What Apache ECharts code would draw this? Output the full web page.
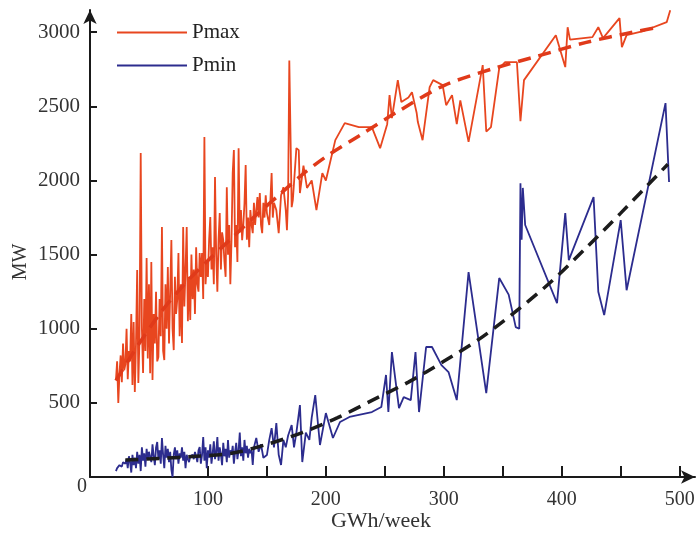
<!DOCTYPE html>
<html>
<head>
<meta charset="utf-8">
<script src="https://cdn.jsdelivr.net/npm/echarts@6/dist/echarts.min.js"></script>
<style>html,body{margin:0;padding:0;background:#fff}#c{width:699px;height:535px}</style>
</head>
<body>
<div id="c"></div>
<script>
// ---- data ----
var pmaxX = [22,23,24,25,26,27,28,29,30,31,32,33,34,35,36,37,38,39,40,41,42,43,44,45,46,47,48,49,50,51,52,53,54,55,56,57,58,59,60,61,62,63,64,65,66,67,68,69,70,71,72,73,74,75,76,77,78,79,80,81,82,83,84,85,86,87,88,89,90,91,92,93,94,95,96,97,98,99,100,101,102,103,104,105,106,107,108,109,110,111,112,113,114,115,116,117,118,119,120,121,122,123,124,125,126,127,128,129,130,131,132,133,134,135,136,137,138,139,140,141,142,143,144,145,146,147,148,149,150,152,154,155,156,158,160,162,164,166,167,168,169,171,172,175,177,178,181,184,188,192,197,200,208,216,228,239,246,252,254,256,261,264,270,273,277,278,282,288,291,299,302,307,311,314,321,333,336,340,347,352,362,365,366,368,395,403,405,407,426,431,435,449,451,455,470,489,492];
var pmaxY = [654,780,499,700,820,640,900,720,760,1000,660,850,780,1100,620,1045,573,900,1396,634,950,2185,1000,701,1200,850,1477,800,1300,700,1450,654,1100,900,1250,780,809,1200,950,1686,850,789,1300,1000,1416,900,1250,1598,1000,856,1350,1100,1200,1510,950,1300,904,1686,1150,1400,1686,1050,1350,1059,1500,1200,1400,1100,1550,1300,1250,1510,1350,1510,1200,2293,1300,1450,1350,1600,1753,1400,1550,1300,2023,1500,1250,1600,1780,1400,1650,1598,1450,1350,1955,1500,1700,1300,1600,2050,2205,1550,1700,1450,2218,1650,1800,1598,1700,1848,2104,1600,1750,1550,1800,1700,1645,1850,1700,1800,1888,1750,1915,1700,1645,1850,1750,1900,1780,1700,2050,1750,1850,1800,1645,1900,1955,1800,1665,1900,2810,1820,1868,2218,2205,1915,2100,1950,2000,1800,2050,2000,2272,2387,2360,2360,2218,2380,2576,2421,2677,2529,2560,2596,2455,2394,2272,2630,2677,2643,2508,2576,2380,2540,2260,2778,2330,2360,2758,2798,2798,2400,2387,2677,2980,2765,3034,2950,2967,3034,2960,3095,2900,2980,3010,3068,3149];

var pminX = [22,23,25,27,28,30,31,32,33,34,35,36,37,38,39,40,41,42,43,44,45,46,47,48,49,50,51,52,53,54,55,56,57,58,59,60,61,62,63,64,65,66,67,68,69,70,71,72,73,74,75,76,77,78,79,80,81,82,83,84,85,86,87,88,89,90,91,92,93,94,95,96,97,98,99,100,101,102,103,104,105,106,107,108,109,110,111,112,113,114,115,116,117,118,119,120,121,122,123,124,125,126,127,128,129,130,131,132,133,134,135,136,137,138,139,141,143,145,147,150,152,154,156,158,160,162,164,166,168,171,173,175,178,180,183,186,188,191,195,200,206,212,220,239,247,251,253,256,262,266,272,276,279,285,290,298,304,311,321,336,347,355,361,364,365,366,367,369,396,403,406,427,431,436,450,455,488,491];
var pminY = [40,60,80,70,100,90,120,60,140,100,30,150,80,130,60,170,90,150,40,200,110,160,70,190,120,170,182,100,220,140,80,200,236,120,180,90,263,150,60,210,130,190,100,170,50,0,150,200,120,180,90,160,130,200,110,170,60,150,120,100,140,130,150,120,169,140,100,180,202,90,150,270,110,200,60,180,130,220,90,160,240,120,170,270,110,200,150,80,230,140,190,100,250,130,180,150,210,90,170,230,120,180,300,140,200,110,250,160,210,130,190,160,180,81,200,263,170,220,130,148,250,330,200,364,150,81,250,200,280,350,200,300,485,101,300,250,400,553,216,431,263,371,405,438,472,688,438,843,465,539,519,843,438,877,877,755,708,519,1382,566,1342,1230,1011,1000,1982,1600,1950,1700,1173,1780,1463,1888,1250,1092,1733,1260,2522,1990];

var pmaxFitX = [22,40,60,80,100,120,140,160,180,200,230,260,300,340,380,420,460,480];
var pmaxFitY = [650,880,1110,1300,1460,1610,1760,1900,2040,2160,2310,2460,2640,2750,2840,2930,3000,3030];

var pminFitX = [30,60,90,120,150,180,210,240,270,300,330,360,390,420,450,490];
var pminFitY = [115,125,140,160,220,300,400,520,640,780,930,1110,1310,1540,1780,2110];

var xTicks = [100,150,200,250,300,350,400,450,500];
var xLabels = [100,200,300,400,500];
var yTicks = [500,1000,1500,2000,2500,3000];

function zip(a, b) { return a.map(function (v, i) { return [v, b[i]]; }); }
function plain(v) { return String(v); }

var FONT = '"Liberation Serif", "DejaVu Serif", serif';
var AX = '#1a1a1a';
var RED = '#e8461f';
var BLUE = '#2c2c8e';

var chart = echarts.init(document.getElementById('c'), null, {renderer: 'canvas'});
chart.setOption({
  backgroundColor: '#ffffff',
  animation: false,
  grid: {left: 90, right: 4, top: 10, bottom: 58},
  legend: {
    data: ['Pmax', 'Pmin'],
    orient: 'vertical', left: 112, top: 17,
    icon: 'rect', itemWidth: 70, itemHeight: 2, itemGap: 12,
    textStyle: {fontFamily: FONT, fontSize: 21, color: '#222'}
  },
  xAxis: {
    type: 'value', min: 0, max: 513,
    axisLine: {show: true, onZero: false, symbol: ['none', 'arrow'], symbolSize: [10, 14], lineStyle: {color: AX, width: 2}},
    axisTick: {show: true, inside: true, length: 11, customValues: xTicks, lineStyle: {color: AX, width: 2}},
    axisLabel: {customValues: xLabels, formatter: plain, margin: 13, fontFamily: FONT, fontSize: 20, color: '#333'},
    splitLine: {show: false}
  },
  yAxis: {
    type: 'value', min: 0, max: 3150,
    axisLine: {show: true, onZero: false, symbol: ['none', 'arrow'], symbolSize: [10, 14], lineStyle: {color: AX, width: 2}},
    axisTick: {show: true, inside: true, length: 7, customValues: yTicks, lineStyle: {color: AX, width: 2}},
    axisLabel: {customValues: yTicks, formatter: plain, margin: 10, fontFamily: FONT, fontSize: 21, color: '#333'},
    splitLine: {show: false}
  },
  graphic: [
    {type: 'text', left: 77, top: 477, style: {text: '0', font: '20px ' + FONT, fill: '#333'}},
    {type: 'text', x: 381, y: 521, style: {text: 'GWh/week', font: '22px ' + FONT, fill: '#333', align: 'center', verticalAlign: 'middle'}},
    {type: 'text', x: 21, y: 262, rotation: Math.PI / 2, style: {text: 'MW', font: '20px ' + FONT, fill: '#333', align: 'center', verticalAlign: 'middle'}}
  ],
  series: [
    {name: 'Pmax', type: 'line', data: zip(pmaxX, pmaxY), showSymbol: false, symbol: 'none',
     itemStyle: {color: RED}, lineStyle: {color: RED, width: 1.8}, z: 2},
    {name: 'Pmin', type: 'line', data: zip(pminX, pminY), showSymbol: false, symbol: 'none',
     itemStyle: {color: BLUE}, lineStyle: {color: BLUE, width: 1.8}, z: 2},
    {name: 'Pmax fit', type: 'line', data: zip(pmaxFitX, pmaxFitY), showSymbol: false, symbol: 'none', smooth: 0.3,
     lineStyle: {color: '#e03a1a', width: 3.5, type: [13, 8]}, z: 3},
    {name: 'Pmin fit', type: 'line', data: zip(pminFitX, pminFitY), showSymbol: false, symbol: 'none', smooth: 0.3,
     lineStyle: {color: '#1c1c1c', width: 3.5, type: [13, 8]}, z: 3}
  ]
});
</script>
</body>
</html>
